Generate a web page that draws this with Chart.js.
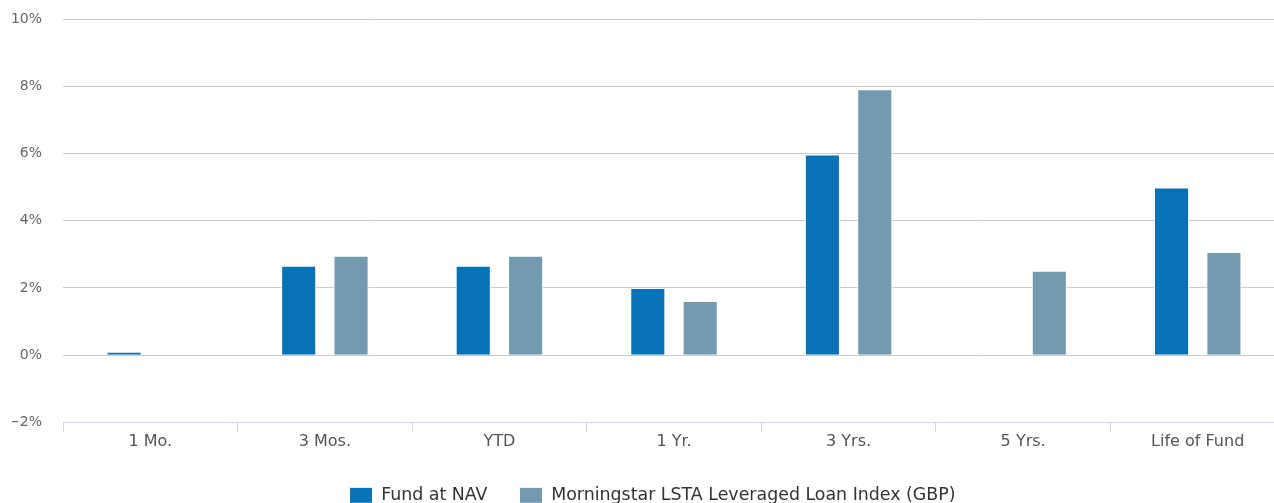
<!DOCTYPE html>
<html>
<head>
<meta charset="utf-8">
<script src="https://cdn.jsdelivr.net/npm/chart.js@4"></script>
<style>
  html, body { margin: 0; padding: 0; overflow: hidden; background: #fff; }
  #wrap { width: 1285px; height: 514px; }
</style>
</head>
<body>
<div id="wrap"><canvas id="myChart"></canvas></div>
<script>
const categories = ["1 Mo.", "3 Mos.", "YTD", "1 Yr.", "3 Yrs.", "5 Yrs.", "Life of Fund"];
const fundAtNav = [0.1, 2.66, 2.66, 2.0, 5.97, null, 4.99];
const benchmark = [0.0, 2.96, 2.96, 1.61, 7.91, 2.51, 3.07];
const yTicks = [-2, 0, 2, 4, 6, 8, 10];

const font = "'DejaVu Sans', sans-serif";

// nudge the legend a little to the right, like the original
const legendShift = {
  id: "legendShift",
  afterLayout(chart) {
    chart.legend.left += 8;
  },
};

new Chart(document.getElementById("myChart").getContext("2d"), {
  type: "bar",
  data: {
    labels: categories,
    datasets: [
      {
        label: "Fund at NAV",
        data: fundAtNav,
        backgroundColor: "#0673B8",
        borderColor: "#ffffff",
        borderWidth: 1,
      },
      {
        label: "Morningstar LSTA Leveraged Loan Index (GBP)",
        data: benchmark,
        backgroundColor: "#739AAF",
        borderColor: "#ffffff",
        borderWidth: 1,
      },
    ],
  },
  options: {
    responsive: true,
    maintainAspectRatio: false,
    animation: false,
    datasets: { bar: { categoryPercentage: 0.6, barPercentage: 0.67 } },
    layout: { padding: { left: 12, top: 19, right: 0, bottom: 0 } },
    plugins: {
      tooltip: { enabled: false },
      legend: {
        position: "bottom",
        labels: {
          boxWidth: 23,
          boxHeight: 16,
          padding: 32,
          color: "#333333",
          font: { family: font, size: 17.4 },
        },
      },
    },
    scales: {
      x: {
        afterFit: (axis) => { axis.height += 3; },
        grid: {
          offset: true,
          drawOnChartArea: false,
          tickLength: 10,
          color: "#ccd6eb",
        },
        border: { color: "#ccd6eb" },
        ticks: { color: "#555555", font: { family: font, size: 16 }, padding: 0 },
      },
      y: {
        min: -2,
        max: 10,
        afterBuildTicks: (axis) => { axis.ticks = yTicks.map((v) => ({ value: v })); },
        afterFit: (axis) => {
          axis.width = 51;
          axis.paddingTop = 0;
          axis.paddingBottom = 0;
        },
        grid: { color: "#cccccc", drawTicks: false },
        border: { display: false },
        ticks: {
          color: "#666666",
          font: { family: font, size: 14 },
          padding: 21,
          callback: (v) => (v < 0 ? "\u2212" + Math.abs(v) : v) + "%",
        },
      },
    },
  },
  plugins: [legendShift],
});
</script>
</body>
</html>
